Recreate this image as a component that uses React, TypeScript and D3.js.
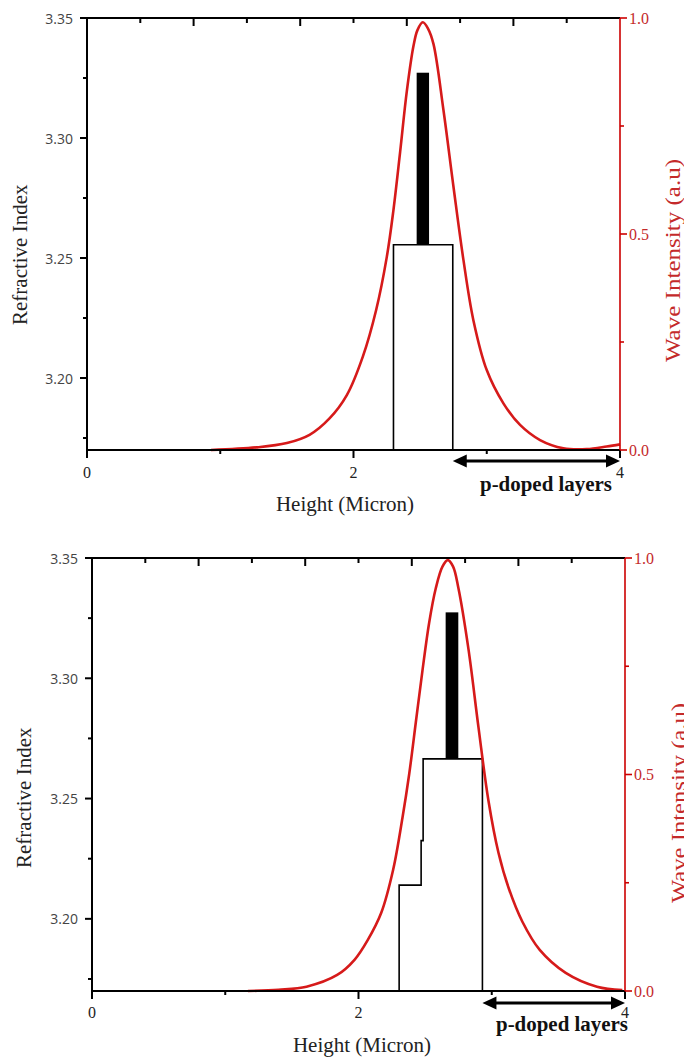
import React from 'react';
import * as d3 from 'd3';

// ---------- data ----------
const heightTicks = [0, 2, 4];
const heightMinorTicks = [1, 3];
const topEdgeMajorTicks = [0.8, 1.6, 2.4, 3.2];
const topEdgeMinorTicks = [0.4, 1.2, 2.0, 2.8, 3.6];
const refractiveTicks = [3.2, 3.25, 3.3, 3.35];
const refractiveMinorTicks = [3.175, 3.225, 3.275, 3.325];
const intensityTicks = [0, 0.5, 1.0];
const intensityMinorTicks = [0.25, 0.75];

// panel 1 (top)
const topHeights = [0.93, 1.27, 1.5, 1.67, 1.82, 1.95, 2.07, 2.17, 2.25, 2.3, 2.35, 2.4, 2.45, 2.48, 2.52, 2.56, 2.6, 2.675, 2.75, 2.825, 2.9, 3.0, 3.125, 3.25, 3.4, 3.575, 3.75, 3.9, 4.0];
const topIntensity = [0, 0.006, 0.016, 0.035, 0.073, 0.127, 0.216, 0.324, 0.447, 0.556, 0.69, 0.83, 0.935, 0.972, 0.99, 0.975, 0.94, 0.787, 0.61, 0.44, 0.3, 0.185, 0.108, 0.058, 0.023, 0.004, 0.002, 0.008, 0.013];
const topProfileEdges = [2.3, 2.745];
const topProfileLevels = [3.2555];
const topWellEdges = [2.474, 2.567];
const topWellLevel = 3.3272;

// panel 2 (bottom)
const bottomHeights = [1.17, 1.4, 1.61, 1.84, 1.97, 2.07, 2.17, 2.26, 2.33, 2.38, 2.43, 2.48, 2.53, 2.58, 2.63, 2.67, 2.71, 2.75, 2.825, 2.9, 2.975, 3.05, 3.13, 3.23, 3.36, 3.555, 3.79, 3.98];
const bottomIntensity = [0, 0.003, 0.01, 0.037, 0.072, 0.118, 0.18, 0.28, 0.4, 0.5, 0.62, 0.74, 0.85, 0.93, 0.98, 0.995, 0.98, 0.93, 0.79, 0.61, 0.44, 0.32, 0.235, 0.16, 0.095, 0.042, 0.01, 0.002];
const bottomProfileEdges = [2.305, 2.47, 2.485, 2.93];
const bottomProfileLevels = [3.214, 3.2325, 3.2665];
const bottomWellEdges = [2.654, 2.749];
const bottomWellLevel = 3.3274;

const heightDomain = [0, 4];
const refractiveDomain = [3.17, 3.35];
const intensityDomain = [0, 1];

// ---------- style ----------
const serif = '"Liberation Serif", "Times New Roman", serif';
const sans = '"Open Sans", "Noto Sans", "DejaVu Sans", sans-serif';
const RED_CURVE = '#d61a1a';
const RED_AXIS = '#cc0000';
const RED_TEXT = '#c42a2a';

type Cfg = {
  x0: number; x1: number; y0: number; y1: number;
  tickLabelY: number; xLabelX: number; xLabelY: number;
  pLabelX: number; pLabelY: number; arrowY: number;
  leftLabelX: number; leftLabelStart: number;
  rightLabelX: number; rightLabelStart: number; rightLabelLen: number;
  leftTickRight: number;
};

const panels: Cfg[] = [
  { x0: 87, x1: 620, y0: 18, y1: 450, tickLabelY: 478, xLabelX: 345, xLabelY: 511,
    pLabelX: 546, pLabelY: 491, arrowY: 461, leftLabelX: 20, leftLabelStart: 325,
    rightLabelX: 673, rightLabelStart: 362, rightLabelLen: 203, leftTickRight: 73 },
  { x0: 92, x1: 625, y0: 558, y1: 991, tickLabelY: 1018, xLabelX: 362, xLabelY: 1052,
    pLabelX: 562, pLabelY: 1031, arrowY: 1003, leftLabelX: 24, leftLabelStart: 868,
    rightLabelX: 679, rightLabelStart: 903, rightLabelLen: 200, leftTickRight: 78 },
];

function Panel({ cfg, heights, intensity, edges, levels, wellEdges, wellLevel }: {
  cfg: Cfg; heights: number[]; intensity: number[]; edges: number[]; levels: number[];
  wellEdges: number[]; wellLevel: number;
}) {
  const x = d3.scaleLinear().domain(heightDomain).range([cfg.x0, cfg.x1]);
  const yN = d3.scaleLinear().domain(refractiveDomain).range([cfg.y1, cfg.y0]);
  const yI = d3.scaleLinear().domain(intensityDomain).range([cfg.y1, cfg.y0]);

  const curve = d3.line<number>()
    .x((_, i) => x(heights[i]))
    .y((d) => yI(d))
    .curve(d3.curveCatmullRom.alpha(0.5))(intensity) || '';

  const base = refractiveDomain[0];
  let prof = `M${x(edges[0])},${yN(base)}`;
  levels.forEach((lv, i) => {
    prof += `V${yN(lv)}H${x(edges[i + 1])}`;
  });
  prof += `V${yN(base)}`;

  const pStart = x(edges[edges.length - 1]);
  const pEnd = x(heightDomain[1]);
  const ay = cfg.arrowY;
  const ah = 14, aw = 6.5;

  return (
    <g>
      {/* refractive profile */}
      <path d={prof} fill="none" stroke="#000" strokeWidth={1.6} />
      <rect x={x(wellEdges[0])} y={yN(wellLevel)} width={x(wellEdges[1]) - x(wellEdges[0])}
        height={yN(levels[levels.length - 1]) - yN(wellLevel)} fill="#000" />

      {/* intensity curve */}
      <path d={curve} fill="none" stroke={RED_CURVE} strokeWidth={2.6} strokeLinejoin="round" />

      {/* frame */}
      <line x1={cfg.x0} x2={cfg.x1} y1={cfg.y0} y2={cfg.y0} stroke="#000" strokeWidth={2} />
      <line x1={cfg.x0} x2={cfg.x1} y1={cfg.y1} y2={cfg.y1} stroke="#000" strokeWidth={2} />
      <line x1={cfg.x0} x2={cfg.x0} y1={cfg.y0 - 1} y2={cfg.y1 + 1} stroke="#000" strokeWidth={2} />
      <line x1={cfg.x1} x2={cfg.x1} y1={cfg.y0} y2={cfg.y1} stroke={RED_AXIS} strokeWidth={1.6} />

      {/* top edge ticks (inward) */}
      {topEdgeMajorTicks.map((t) => (
        <line key={'tM' + t} x1={x(t)} x2={x(t)} y1={cfg.y0} y2={cfg.y0 + 8} stroke="#000" strokeWidth={2} />
      ))}
      {topEdgeMinorTicks.map((t) => (
        <line key={'tm' + t} x1={x(t)} x2={x(t)} y1={cfg.y0} y2={cfg.y0 + 5} stroke="#000" strokeWidth={2} />
      ))}

      {/* bottom axis ticks */}
      {heightTicks.map((t) => (
        <g key={'b' + t}>
          <line x1={x(t)} x2={x(t)} y1={cfg.y1} y2={cfg.y1 + 8} stroke="#000" strokeWidth={2} />
          <text x={x(t)} y={cfg.tickLabelY} textAnchor="middle" fontFamily={serif} fontSize={16} fill="#222">{t}</text>
        </g>
      ))}
      {heightMinorTicks.map((t) => (
        <line key={'bm' + t} x1={x(t)} x2={x(t)} y1={cfg.y1} y2={cfg.y1 + 4} stroke="#000" strokeWidth={2} />
      ))}

      {/* left axis ticks */}
      {refractiveTicks.map((t) => (
        <g key={'l' + t}>
          <line x1={cfg.x0 - 7} x2={cfg.x0} y1={yN(t)} y2={yN(t)} stroke="#000" strokeWidth={2} />
          <text x={cfg.leftTickRight} y={yN(t)} textAnchor="end" dominantBaseline="central"
            fontFamily={sans} fontSize={14} fill="#444">{t.toFixed(2)}</text>
        </g>
      ))}
      {refractiveMinorTicks.map((t) => (
        <line key={'lm' + t} x1={cfg.x0 - 4} x2={cfg.x0} y1={yN(t)} y2={yN(t)} stroke="#000" strokeWidth={2} />
      ))}

      {/* right axis ticks */}
      {intensityTicks.map((t) => (
        <g key={'r' + t}>
          <line x1={cfg.x1} x2={cfg.x1 + 7} y1={yI(t)} y2={yI(t)} stroke={RED_AXIS} strokeWidth={1.6} />
          <text x={cfg.x1 + 9} y={yI(t)} dominantBaseline="central" fontFamily={serif}
            fontSize={16} fill={RED_TEXT}>{t.toFixed(1)}</text>
        </g>
      ))}
      {intensityMinorTicks.map((t) => (
        <line key={'rm' + t} x1={cfg.x1} x2={cfg.x1 + 4} y1={yI(t)} y2={yI(t)} stroke={RED_AXIS} strokeWidth={1.6} />
      ))}

      {/* axis titles */}
      <text x={cfg.xLabelX} y={cfg.xLabelY} textAnchor="middle" fontFamily={serif} fontSize={21} fill="#222">Height (Micron)</text>
      <text transform={`translate(${cfg.leftLabelX},${cfg.leftLabelStart}) rotate(-90)`} dominantBaseline="central"
        fontFamily={serif} fontSize={21} fill="#222">Refractive Index</text>
      <text transform={`translate(${cfg.rightLabelX},${cfg.rightLabelStart}) rotate(-90)`} dominantBaseline="central"
        fontFamily={serif} fontSize={21} fill={RED_TEXT} textLength={cfg.rightLabelLen}
        lengthAdjust="spacingAndGlyphs">Wave Intensity (a.u)</text>

      {/* p-doped arrow */}
      <line x1={pStart + ah - 1} x2={pEnd - ah + 1} y1={ay} y2={ay} stroke="#000" strokeWidth={3} />
      <polygon points={`${pStart},${ay} ${pStart + ah},${ay - aw} ${pStart + ah},${ay + aw}`} fill="#000" />
      <polygon points={`${pEnd},${ay} ${pEnd - ah},${ay - aw} ${pEnd - ah},${ay + aw}`} fill="#000" />
      <text x={cfg.pLabelX} y={cfg.pLabelY} textAnchor="middle" fontFamily={serif} fontWeight="bold"
        fontSize={20} fill="#111" textLength={132} lengthAdjust="spacingAndGlyphs">p-doped layers</text>
    </g>
  );
}

export default function App() {
  return (
    <svg width={684} height={1059} viewBox="0 0 684 1059"
      style={{ position: 'absolute', left: 0, top: 0, display: 'block', background: '#fff' }}>
      <rect x={0} y={0} width={684} height={1059} fill="#fff" />
      <Panel cfg={panels[0]} heights={topHeights} intensity={topIntensity} edges={topProfileEdges}
        levels={topProfileLevels} wellEdges={topWellEdges} wellLevel={topWellLevel} />
      <Panel cfg={panels[1]} heights={bottomHeights} intensity={bottomIntensity} edges={bottomProfileEdges}
        levels={bottomProfileLevels} wellEdges={bottomWellEdges} wellLevel={bottomWellLevel} />
    </svg>
  );
}
